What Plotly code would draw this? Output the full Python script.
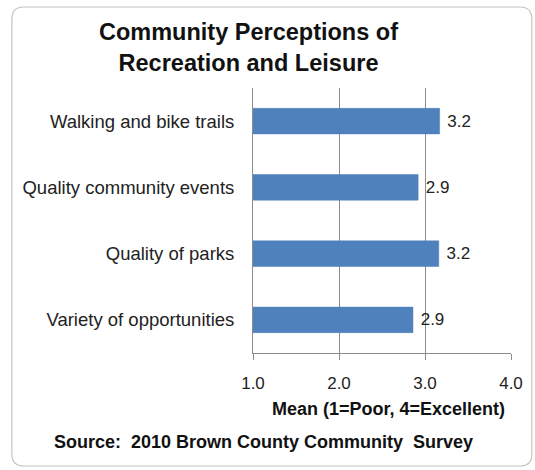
import plotly.graph_objects as go

categories = ["Walking and bike trails", "Quality community events", "Quality of parks", "Variety of opportunities"]
means = [3.17, 2.92, 3.16, 2.86]
x_ticks = [1.0, 2.0, 3.0, 4.0]
x_tick_labels = ["1.0", "2.0", "3.0", "4.0"]

W, H = 535, 470
L, R, T, B = 253, 22, 88, 117
PW, PH = W - L - R, H - T - B

def xp(px):
    return (px - L) / PW

def yp(py):
    return (H - B - py) / PH

FONT = "Liberation Sans, Arial, sans-serif"

fig = go.Figure()
fig.add_trace(go.Bar(
    y=categories, x=means, orientation="h", base=0,
    marker=dict(color="#4F81BD", line=dict(color="#4A7AB5", width=0.5)),
    width=0.385,
    text=[f" {v:.1f}" for v in means], textposition="outside",
    textfont=dict(family=FONT, size=17, color="#222222"),
    cliponaxis=False,
))

# rounded border
x0, x1, y0, y1, r = 10, 534, 7, 466, 12
path = (f"M {xp(x0+r)} {yp(y0)} L {xp(x1-r)} {yp(y0)} "
        f"Q {xp(x1)} {yp(y0)} {xp(x1)} {yp(y0+r)} "
        f"L {xp(x1)} {yp(y1-r)} Q {xp(x1)} {yp(y1)} {xp(x1-r)} {yp(y1)} "
        f"L {xp(x0+r)} {yp(y1)} Q {xp(x0)} {yp(y1)} {xp(x0)} {yp(y1-r)} "
        f"L {xp(x0)} {yp(y0+r)} Q {xp(x0)} {yp(y0)} {xp(x0+r)} {yp(y0)} Z")

fig.update_layout(
    width=W, height=H, autosize=False,
    margin=dict(l=L, r=R, t=T, b=B, pad=0),
    paper_bgcolor="white", plot_bgcolor="white",
    showlegend=False,
    font=dict(family=FONT, color="#222222"),
    shapes=[dict(type="path", xref="paper", yref="paper", path=path,
                 line=dict(color="#C4C4C4", width=1.2), layer="below")],
    xaxis=dict(range=[1, 4], tickvals=x_ticks, ticktext=x_tick_labels,
               showgrid=True, gridcolor="#8C8C8C", gridwidth=1,
               showline=True, linecolor="#8C8C8C", linewidth=1,
               ticks="outside", ticklen=6, tickcolor="#8C8C8C",
               ticklabelstandoff=9,
               tickfont=dict(family=FONT, size=17, color="#222222"),
               zeroline=False, fixedrange=True),
    yaxis=dict(categoryorder="array", categoryarray=categories[::-1],
               showline=True, linecolor="#8C8C8C", linewidth=1,
               showgrid=False, ticks="", ticklabelstandoff=14,
               tickfont=dict(family=FONT, size=18.5, color="#222222"),
               fixedrange=True),
    annotations=[
        dict(text="<b>Community Perceptions of<br>Recreation and Leisure</b>",
             xref="paper", yref="paper", x=xp(248), y=yp(47),
             xanchor="center", yanchor="middle", showarrow=False,
             font=dict(family=FONT, size=23.5, color="#111111")),
        dict(text="<b>Mean (1=Poor, 4=Excellent)</b>",
             xref="paper", yref="paper", x=xp(390), y=yp(409),
             xanchor="center", yanchor="middle", showarrow=False,
             font=dict(family=FONT, size=18, color="#111111")),
        dict(text="<b>Source:  2010 Brown County Community  Survey</b>",
             xref="paper", yref="paper", x=xp(264), y=yp(442),
             xanchor="center", yanchor="middle", showarrow=False,
             font=dict(family=FONT, size=18, color="#111111")),
    ],
)

fig.write_html("out.html", config={"displayModeBar": False},
               post_script="document.body.style.margin='0';")
